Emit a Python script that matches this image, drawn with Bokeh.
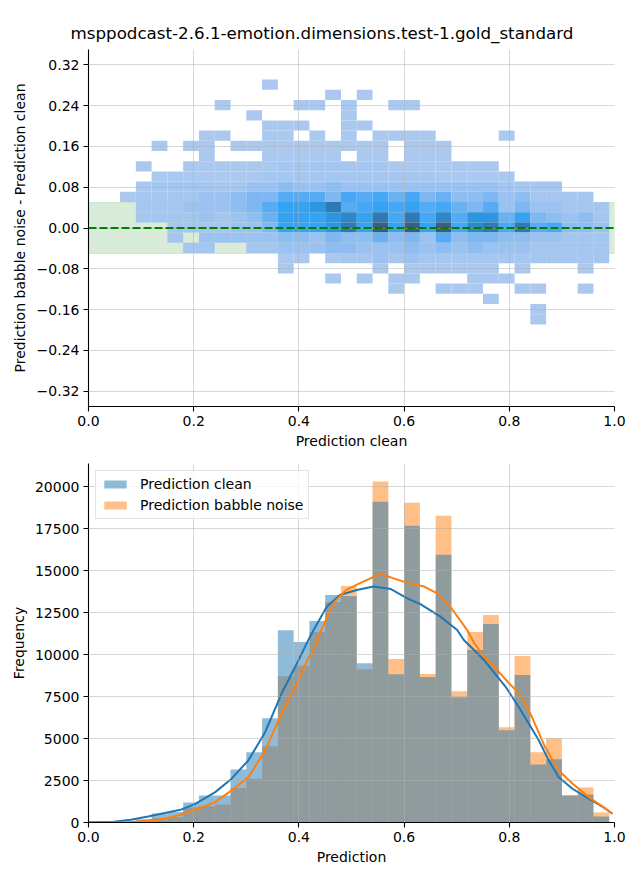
import numpy as np
from bokeh.plotting import figure
from bokeh.layouts import column
from bokeh.models import (FixedTicker, CustomJSTickFormatter, Span, BoxAnnotation,
                          Legend, LegendItem)
from bokeh.embed import file_html
from bokeh.resources import INLINE

FONT = "DejaVu Sans"
title_text = "msppodcast-2.6.1-emotion.dimensions.test-1.gold_standard"

# ---------------- top panel: 2D histogram of (clean, babble - clean) ----------------
heat_x_edges = np.round(np.arange(34) * 0.03, 2)          # 33 columns, 0.00 .. 0.99
heat_row_tops = np.round(0.291 - 0.02 * np.arange(24), 3)  # 24 rows, top row first
# one char per column: '.' empty, '1' (lightest) .. 'd' (darkest)
heat_rows = [
    "..........|.1........|..........|...",
    "..........|.....1.1..|..........|...",
    "........1.|...11.1..1|1.........|...",
    "..........|1.....1...|..........|...",
    "..........|.111..11..|..........|...",
    ".......11.|.11.1.1.11|11....1...|...",
    "....1.11.1|111111111.|111.......|...",
    ".......1..|.11111.11.|111.......|...",
    "...1..1111|1122222221|111111....|...",
    "....111111|1222222222|2211111...|...",
    "...1222222|3343343333|3333332222|...",
    "..12222334|5577758786|8564453422|22.",
    "...2223334|5799ac7898|9786573533|222",
    "...2222323|46999ab9c8|c8b7aa6954|342",
    ".....22223|35999ac9d9|d9d8bc8c78|443",
    ".....2.333|3344354464|5374554433|222",
    "......22..|2233344333|4343433322|222",
    "..........|..11.12232|3222222222|222",
    "..........|..1.....1.|111111.1..|.1.",
    "..........|.....1.1.1|1...111...|...",
    "..........|.........1|..111..11.|.1.",
    "..........|..........|.....1....|...",
    "..........|..........|........1.|...",
    "..........|..........|........1.|...",
]
level_colors = {
    "1": "#abc9ee", "2": "#a4c6ef", "3": "#9bc2f0", "4": "#8ebdf1", "5": "#7eb7f1",
    "6": "#6bb1f2", "7": "#57abf4", "8": "#45a7f5", "9": "#35a2f2", "a": "#2e95e0",
    "b": "#2e87c9", "c": "#3179b5", "d": "#3c5d80",
}
top_x_ticks = [0.0, 0.2, 0.4, 0.6, 0.8, 1.0]
top_y_ticks = [-0.32, -0.24, -0.16, -0.08, 0.0, 0.08, 0.16, 0.24, 0.32]
tolerance_band = (-0.05, 0.05)

# ---------------- bottom panel: histograms + KDE ----------------
hist_edges = np.round(np.arange(34) * 0.03, 2)
hist_clean = [30, 40, 100, 200, 540, 620, 1190, 1610, 1610, 3160, 4180, 6210, 11450,
              10750, 12000, 13550, 13490, 9490, 19100, 8830, 17670, 8660, 15940, 7460,
              10270, 11820, 5490, 8780, 3460, 3760, 1620, 1670, 360]
hist_babble = [10, 15, 40, 100, 260, 320, 915, 975, 1075, 2050, 2600, 4540, 8716,
               9330, 11340, 13130, 14090, 9130, 20300, 9730, 19040, 8836, 18270, 7820,
               11340, 12360, 5670, 9910, 4180, 5010, 1600, 2090, 600]
kde_clean_x = [0.0, 0.048, 0.08, 0.1135, 0.145, 0.177, 0.203, 0.241, 0.272, 0.304, 0.336,
               0.367, 0.393, 0.418, 0.428, 0.453, 0.478, 0.51, 0.542, 0.575, 0.606, 0.631,
               0.669, 0.701, 0.7135, 0.733, 0.752, 0.793, 0.818, 0.837, 0.856, 0.875, 0.894,
               0.92, 0.951, 0.983, 0.996]
kde_clean_y = [20, 40, 160, 360, 560, 780, 1110, 1810, 2610, 3700, 5390,
               7680, 9270, 10870, 11460, 12850, 13550, 13850, 14050, 13900, 13350, 13000,
               12260, 11460, 10870, 10270, 9670, 8080, 6880, 5890, 4900, 3700, 2700,
               2010, 1420, 820, 520]
kde_babble_x = [0.0, 0.08, 0.1135, 0.145, 0.177, 0.209, 0.241, 0.272, 0.304, 0.336, 0.367,
                0.399, 0.416, 0.431, 0.44, 0.465, 0.49, 0.517, 0.555, 0.606, 0.638, 0.663,
                0.688, 0.72, 0.733, 0.752, 0.777, 0.8, 0.8245, 0.843, 0.868, 0.894, 0.92,
                0.951, 0.983, 0.996]
kde_babble_y = [5, 20, 120, 220, 480, 820, 1210, 1910, 2700, 4300, 6490,
                8480, 9670, 10470, 11260, 13050, 13850, 14270, 14800, 14270, 14050, 13650,
                12850, 11460, 10700, 9870, 9070, 8280, 7480, 6290, 4490, 3100, 2320,
                1510, 830, 520]
bottom_y_ticks = [0, 2500, 5000, 7500, 10000, 12500, 15000, 17500, 20000]
series_labels = ["Prediction clean", "Prediction babble noise"]
series_colors = ["#1f77b4", "#ff7f0e"]


def style(p):
    p.outline_line_color = None
    p.background_fill_color = "white"
    p.border_fill_color = "white"
    for ax in (p.xaxis[0], p.yaxis[0]):
        ax.axis_line_color = "black"
        ax.axis_line_width = 1.1
        ax.major_tick_line_color = "black"
        ax.major_tick_line_width = 1.1
        ax.major_tick_out = 5
        ax.major_tick_in = 0
        ax.minor_tick_line_color = None
        ax.major_label_text_font = FONT
        ax.major_label_text_font_size = "14px"
        ax.major_label_text_color = "black"
        ax.axis_label_text_font = FONT
        ax.axis_label_text_font_size = "14px"
        ax.axis_label_text_font_style = "normal"
        ax.axis_label_text_color = "black"
        ax.major_label_standoff = 4
    for g in (p.xgrid[0], p.ygrid[0]):
        g.grid_line_color = "#b0b0b0"
        g.grid_line_alpha = 0.5
        g.grid_line_width = 1
        g.level = "guide"


# ---- top figure ----
p1 = figure(width=640, height=452, x_range=(0, 1), y_range=(-0.35, 0.35),
            output_backend="svg", toolbar_location=None,
            min_border_left=88, min_border_right=26, min_border_top=49, min_border_bottom=46)
style(p1)
p1.title.text = title_text
p1.title.align = "left"
p1.title.offset = -18
p1.title.text_font = FONT
p1.title.text_font_size = "16.7px"
p1.title.text_font_style = "normal"
p1.title.text_color = "black"
p1.title.standoff = 14

p1.add_layout(BoxAnnotation(bottom=tolerance_band[0], top=tolerance_band[1],
                            fill_color="green", fill_alpha=0.15,
                            line_color="green", line_alpha=0.12, line_width=1,
                            level="underlay"))

L, R, B, T, C = [], [], [], [], []
for i, row in enumerate(heat_rows):
    row = row.replace("|", "")
    assert len(row) == 33, (i, len(row))
    for j, ch in enumerate(row):
        if ch == ".":
            continue
        L.append(heat_x_edges[j]); R.append(heat_x_edges[j + 1])
        T.append(heat_row_tops[i]); B.append(heat_row_tops[i] - 0.02)
        C.append(level_colors[ch])
p1.quad(left=L, right=R, bottom=B, top=T, fill_color=C, line_color=None)

p1.add_layout(Span(location=0, dimension="width", line_color="#008000",
                   line_width=2, line_dash="8 3"))

p1.xaxis.ticker = FixedTicker(ticks=top_x_ticks)
p1.xaxis.formatter = CustomJSTickFormatter(code="return tick.toFixed(1);")
p1.yaxis.ticker = FixedTicker(ticks=top_y_ticks)
p1.yaxis.formatter = CustomJSTickFormatter(
    code="return (tick < -1e-9 ? '\\u2212' : '') + Math.abs(tick).toFixed(2);")
p1.xaxis.axis_label = "Prediction clean"
p1.yaxis.axis_label = "Prediction babble noise - Prediction clean"
p1.xaxis.axis_label_standoff = 4
p1.yaxis.axis_label_standoff = 6

# ---- bottom figure ----
p2 = figure(width=640, height=428, x_range=(0, 1), y_range=(0, 21378),
            output_backend="svg", toolbar_location=None,
            min_border_left=88, min_border_right=26, min_border_top=11, min_border_bottom=58)
style(p2)
r_babble = p2.quad(left=hist_edges[:-1], right=hist_edges[1:], bottom=0, top=hist_babble,
                   fill_color=series_colors[1], fill_alpha=0.5, line_color=None)
r_clean = p2.quad(left=hist_edges[:-1], right=hist_edges[1:], bottom=0, top=hist_clean,
                  fill_color=series_colors[0], fill_alpha=0.5, line_color=None)
p2.line(kde_clean_x, kde_clean_y, line_color=series_colors[0], line_width=2)
p2.line(kde_babble_x, kde_babble_y, line_color=series_colors[1], line_width=2)

p2.xaxis.ticker = FixedTicker(ticks=top_x_ticks)
p2.xaxis.formatter = CustomJSTickFormatter(code="return tick.toFixed(1);")
p2.yaxis.ticker = FixedTicker(ticks=bottom_y_ticks)
p2.yaxis.formatter = CustomJSTickFormatter(code="return tick.toFixed(0);")
p2.xaxis.axis_label = "Prediction"
p2.yaxis.axis_label = "Frequency"
p2.xaxis.axis_label_standoff = 4
p2.yaxis.axis_label_standoff = 5

legend = Legend(items=[LegendItem(label=series_labels[0], renderers=[r_clean]),
                       LegendItem(label=series_labels[1], renderers=[r_babble])],
                location="top_left")
legend.label_text_font = FONT
legend.label_text_font_size = "14px"
legend.label_text_color = "black"
legend.glyph_width = 28
legend.glyph_height = 10
legend.label_height = 14
legend.spacing = 5
legend.padding = 5
legend.margin = 7
legend.label_standoff = 11
legend.border_line_color = "#cccccc"
legend.background_fill_alpha = 0.8
p2.add_layout(legend)

layout = column(p1, p2)
open("out.html", "w").write(file_html(layout, INLINE))
